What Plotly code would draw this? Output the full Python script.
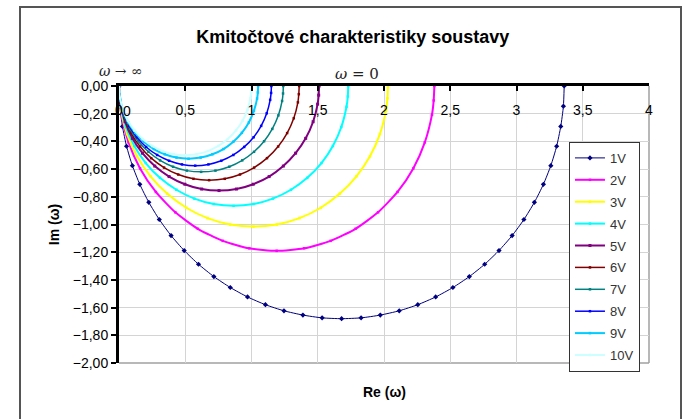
import plotly.graph_objects as go

# ---------------- data ----------------
series_names = ["1V", "2V", "3V", "4V", "5V", "6V", "7V", "8V", "9V", "10V"]

re_1V = [3.360, 3.354, 3.334, 3.303, 3.259, 3.203, 3.135, 3.056, 2.967, 2.868, 2.760, 2.644,
         2.520, 2.390, 2.255, 2.115, 1.972, 1.827, 1.680, 1.533, 1.388, 1.245, 1.105, 0.970,
         0.840, 0.716, 0.600, 0.492, 0.393, 0.304, 0.225, 0.157, 0.101, 0.057, 0.026, 0.006, 0.0]
im_1V = [0.0, -0.146, -0.292, -0.435, -0.575, -0.710, -0.840, -0.964, -1.080, -1.188, -1.287, -1.376,
         -1.455, -1.523, -1.579, -1.623, -1.654, -1.674, -1.680, -1.674, -1.654, -1.623, -1.579, -1.523,
         -1.455, -1.376, -1.287, -1.188, -1.080, -0.964, -0.840, -0.710, -0.575, -0.435, -0.292, -0.146, 0.0]

re_2V = [2.380, 2.375, 2.362, 2.308, 2.221, 2.102, 1.955, 1.785, 1.597, 1.397, 1.190,
         0.983, 0.783, 0.595, 0.425, 0.278, 0.159, 0.072, 0.018, 0.005, 0.0]
im_2V = [0.0, -0.104, -0.207, -0.407, -0.595, -0.765, -0.912, -1.031, -1.118, -1.172, -1.190,
         -1.172, -1.118, -1.031, -0.912, -0.765, -0.595, -0.407, -0.207, -0.104, 0.0]

re_3V = [2.030, 2.026, 2.015, 1.969, 1.894, 1.792, 1.667, 1.523, 1.362, 1.191, 1.015,
         0.839, 0.668, 0.508, 0.363, 0.238, 0.136, 0.061, 0.015, 0.004, 0.0]
im_3V = [0.0, -0.089, -0.176, -0.347, -0.508, -0.652, -0.777, -0.879, -0.954, -1.000, -1.015,
         -1.000, -0.954, -0.879, -0.777, -0.652, -0.508, -0.347, -0.176, -0.089, 0.0]

re_4V = [1.730, 1.727, 1.717, 1.678, 1.614, 1.528, 1.421, 1.298, 1.161, 1.015, 0.865,
         0.715, 0.569, 0.433, 0.309, 0.202, 0.116, 0.052, 0.013, 0.003, 0.0]
im_4V = [0.0, -0.075, -0.150, -0.296, -0.433, -0.556, -0.663, -0.749, -0.813, -0.852, -0.865,
         -0.852, -0.813, -0.749, -0.663, -0.556, -0.433, -0.296, -0.150, -0.075, 0.0]

re_5V = [1.510, 1.507, 1.499, 1.465, 1.409, 1.333, 1.240, 1.133, 1.013, 0.886, 0.755,
         0.624, 0.497, 0.378, 0.270, 0.177, 0.101, 0.046, 0.011, 0.003, 0.0]
im_5V = [0.0, -0.066, -0.131, -0.258, -0.378, -0.485, -0.578, -0.654, -0.709, -0.744, -0.755,
         -0.744, -0.709, -0.654, -0.578, -0.485, -0.378, -0.258, -0.131, -0.066, 0.0]

re_6V = [1.360, 1.357, 1.350, 1.319, 1.269, 1.201, 1.117, 1.020, 0.913, 0.798, 0.680,
         0.562, 0.447, 0.340, 0.243, 0.159, 0.091, 0.041, 0.010, 0.003, 0.0]
im_6V = [0.0, -0.059, -0.118, -0.233, -0.340, -0.437, -0.521, -0.589, -0.639, -0.670, -0.680,
         -0.670, -0.639, -0.589, -0.521, -0.437, -0.340, -0.233, -0.118, -0.059, 0.0]

re_7V = [1.240, 1.238, 1.231, 1.203, 1.157, 1.095, 1.019, 0.930, 0.832, 0.728, 0.620,
         0.512, 0.408, 0.310, 0.222, 0.145, 0.083, 0.037, 0.009, 0.002, 0.0]
im_7V = [0.0, -0.054, -0.108, -0.212, -0.310, -0.399, -0.475, -0.537, -0.583, -0.611, -0.620,
         -0.611, -0.583, -0.537, -0.475, -0.399, -0.310, -0.212, -0.108, -0.054, 0.0]

re_8V = [1.150, 1.148, 1.141, 1.115, 1.073, 1.016, 0.945, 0.863, 0.772, 0.675, 0.575,
         0.475, 0.378, 0.288, 0.205, 0.135, 0.077, 0.035, 0.009, 0.002, 0.0]
im_8V = [0.0, -0.050, -0.100, -0.197, -0.288, -0.370, -0.440, -0.498, -0.540, -0.566, -0.575,
         -0.566, -0.540, -0.498, -0.440, -0.370, -0.288, -0.197, -0.100, -0.050, 0.0]

re_9V = [1.050, 1.048, 1.042, 1.018, 0.980, 0.927, 0.863, 0.788, 0.705, 0.616, 0.525,
         0.434, 0.346, 0.263, 0.188, 0.123, 0.070, 0.032, 0.008, 0.002, 0.0]
im_9V = [0.0, -0.046, -0.091, -0.180, -0.263, -0.338, -0.402, -0.455, -0.493, -0.517, -0.525,
         -0.517, -0.493, -0.455, -0.402, -0.338, -0.263, -0.180, -0.091, -0.046, 0.0]

re_10V = [1.000, 0.998, 0.992, 0.970, 0.933, 0.883, 0.821, 0.750, 0.671, 0.587, 0.500,
          0.413, 0.329, 0.250, 0.179, 0.117, 0.067, 0.030, 0.008, 0.002, 0.0]
im_10V = [0.0, -0.044, -0.087, -0.171, -0.250, -0.321, -0.383, -0.433, -0.470, -0.492, -0.500,
          -0.492, -0.470, -0.433, -0.383, -0.321, -0.250, -0.171, -0.087, -0.044, 0.0]

re_data = [re_1V, re_2V, re_3V, re_4V, re_5V, re_6V, re_7V, re_8V, re_9V, re_10V]
im_data = [im_1V, im_2V, im_3V, im_4V, im_5V, im_6V, im_7V, im_8V, im_9V, im_10V]

colors = ["#000080", "#FF00FF", "#FFFF00", "#00FFFF", "#800080",
          "#800000", "#008080", "#0000FF", "#00CCFF", "#CCFFFF"]
widths = [1, 2, 2, 2, 2, 1.5, 1.5, 1.5, 2, 2]
symbols = ["diamond", "square", "square", "square", "square",
           "square", "square", "square", "square", "square"]
msizes = [4, 2.5, 2.5, 2.5, 3, 2.5, 2.5, 2.5, 2.5, 2.5]

FONT = "Arial, Liberation Sans, sans-serif"

fig = go.Figure()
for i, name in enumerate(series_names):
    fig.add_trace(go.Scatter(
        x=re_data[i], y=im_data[i], name=name, mode="lines+markers",
        legendgroup=name,
        line=dict(color=colors[i], width=widths[i], shape="spline", smoothing=0.6),
        marker=dict(color=colors[i], size=msizes[i], symbol=symbols[i]),
    ))

fig.update_layout(
    width=685, height=419,
    margin=dict(l=119, r=36, t=86, b=56),
    paper_bgcolor="white", plot_bgcolor="white",
    separators=", ",
    font=dict(family=FONT, size=14, color="#000000"),
    title=dict(text="<b>Kmitočtové charakteristiky soustavy</b>",
               x=0.515, xanchor="center", y=1 - 37 / 419, yanchor="middle",
               font=dict(family=FONT, size=18, color="#000000")),
    showlegend=True,
    legend=dict(x=0.849, xanchor="left", y=0.798, yanchor="top",
                bordercolor="#333333", borderwidth=1, bgcolor="white",
                font=dict(family=FONT, size=13, color="#333333"),
                tracegroupgap=2, itemwidth=30),
    xaxis=dict(range=[0, 4], dtick=0.5, side="top", showgrid=True,
               gridcolor="#d4d4d4", gridwidth=1,
               showline=True, linecolor="black", linewidth=3,
               ticks="inside", ticklen=5, tickwidth=2, tickcolor="black",
               ticklabelposition="inside", ticklabelstandoff=14,
               ticklabeloverflow="allow",
               zeroline=False, tickfont=dict(size=14, color="#000000")),
    yaxis=dict(range=[-2, 0], dtick=0.2, tickformat=".2f", showgrid=True,
               gridcolor="#d4d4d4", gridwidth=1,
               showline=True, linecolor="black", linewidth=3,
               ticks="outside", ticklen=5, tickwidth=2, tickcolor="black",
               ticklabeloverflow="allow",
               zeroline=False, tickfont=dict(size=14, color="#000000"),
               title=dict(text="<b>Im (ω)</b>", standoff=10,
                          font=dict(family=FONT, size=14, color="#000000"))),
)

# right/bottom plot area border (gray)
fig.add_shape(type="line", xref="paper", yref="paper", x0=1, x1=1, y0=0, y1=1,
              line=dict(color="#a0a0a0", width=1.5), layer="below")
fig.add_shape(type="line", xref="paper", yref="paper", x0=0, x1=1, y0=0, y1=0,
              line=dict(color="#a0a0a0", width=1.5), layer="below")

# outer chart border
fig.add_shape(type="rect", xref="paper", yref="paper",
              x0=(20 - 119) / 530, x1=(681 - 119) / 530,
              y0=(363 - 430) / 277, y1=(363 - 7) / 277,
              line=dict(color="#555555", width=2), layer="below")

# x tick label at the origin (hidden by plotly where the axes meet)
fig.add_annotation(text="0", xref="x", yref="paper", x=0, y=(363 - 111) / 277,
                   showarrow=False, xanchor="left", yanchor="middle", xshift=2,
                   font=dict(family=FONT, size=14, color="#000000"))

fig.add_annotation(text="<b>Re (ω)</b>", xref="paper", yref="paper",
                   x=0.5, y=(363 - 392) / 277, showarrow=False,
                   xanchor="center", yanchor="middle",
                   font=dict(family=FONT, size=14, color="#000000"))
fig.add_annotation(text="<i>ω</i> → ∞", xref="paper", yref="paper",
                   x=(121 - 119) / 530, y=(363 - 71) / 277, showarrow=False,
                   xanchor="center", yanchor="middle",
                   font=dict(family="DejaVu Serif, serif", size=14, color="#222222"))
fig.add_annotation(text="<i>ω</i> = 0", xref="paper", yref="paper",
                   x=(357 - 119) / 530, y=(363 - 74) / 277, showarrow=False,
                   xanchor="center", yanchor="middle",
                   font=dict(family="DejaVu Serif, serif", size=15, color="#222222"))

fig.write_html("out.html")
